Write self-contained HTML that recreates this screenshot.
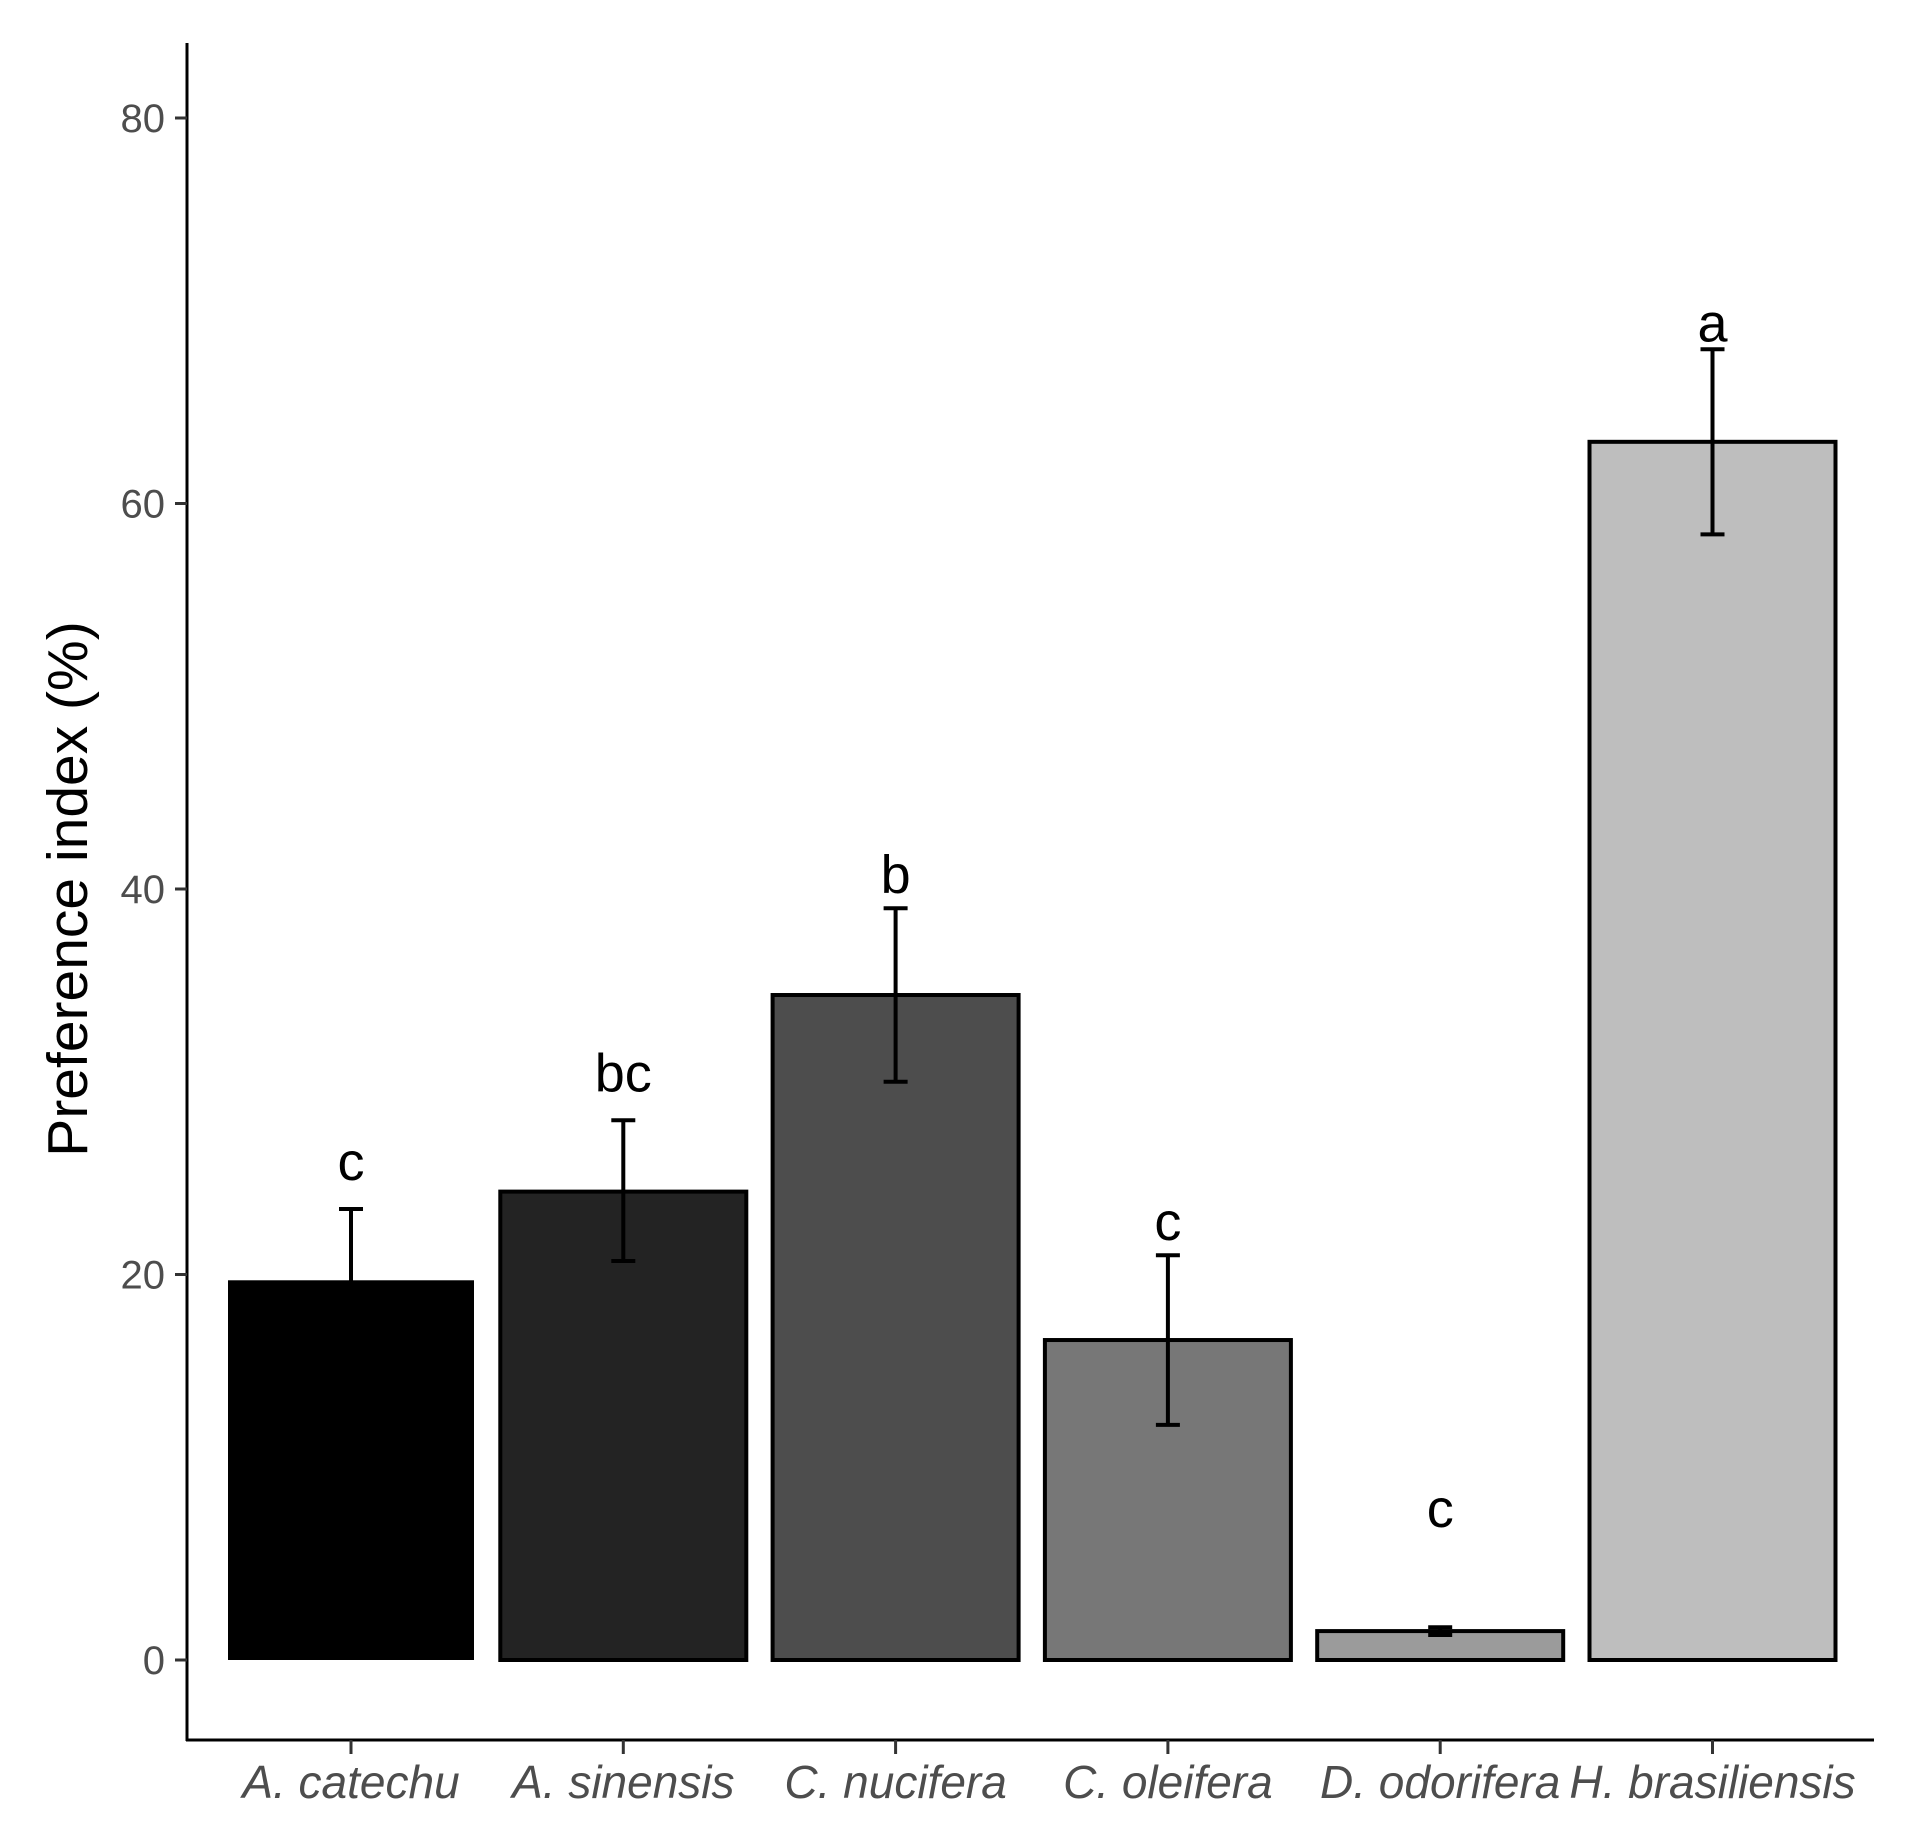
<!DOCTYPE html>
<html><head><meta charset="utf-8"><style>
html,body{margin:0;padding:0;background:#fff;}
svg{display:block;font-family:"Liberation Sans",sans-serif;}
</style></head><body>
<svg id="chart" width="1911" height="1829" viewBox="0 0 1911 1829" xmlns="http://www.w3.org/2000/svg"></svg>
<script>
const categories = ["A. catechu","A. sinensis","C. nucifera","C. oleifera","D. odorifera","H. brasiliensis"];
const values = [19.7, 24.3, 34.5, 16.6, 1.5, 63.2];
const errLow = [16.0, 20.7, 30.0, 12.2, 1.3, 58.4];
const errHigh = [23.4, 28.0, 39.0, 21.0, 1.7, 68.0];
const letters = ["c","bc","b","c","c","a"];
const letterPos = [24.9, 29.5, 39.8, 21.8, 6.9, 68.4];
const fills = ["#000000","#232323","#4d4d4d","#777777","#9b9b9b","#bebebe"];
const yTicks = [0, 20, 40, 60, 80];

const svg = document.getElementById('chart');
const NS = "http://www.w3.org/2000/svg";
const y = v => 1660 - v * (1660 - 118) / 80;
const x = i => 351 + i * 272.3;
const bw = 246;
function mk(tag, attrs, parent){ const e=document.createElementNS(NS,tag); for(const k in attrs) e.setAttribute(k,attrs[k]); (parent||svg).appendChild(e); return e; }

const axes = mk('g',{});


const yl = mk('line',{x1:187,y1:43,x2:187,y2:1741,stroke:'#000','stroke-width':3},axes);


const xl = mk('line',{x1:186,y1:1740,x2:1874,y2:1740,stroke:'#000','stroke-width':3},axes);



yTicks.forEach(t=>{
  const tk = mk('line',{x1:175,y1:y(t),x2:187,y2:y(t),stroke:'#333','stroke-width':3},axes);
  
  
  const lb = mk('text',{x:165,y:y(t)+14,'text-anchor':'end','font-size':40,fill:'#4d4d4d'},axes);
  lb.textContent = t;
  
  
});
const yt = mk('text',{x:0,y:0,'text-anchor':'middle','font-size':57,fill:'#000',transform:'translate(87,889) rotate(-90)'});
yt.textContent = 'Preference index (%)';



categories.forEach((c,i)=>{
  const cx = x(i);
  const r = mk('rect',{x:cx-bw/2,y:y(values[i]),width:bw,height:y(0)-y(values[i]),fill:fills[i],stroke:'#000','stroke-width':i===0?0:4});
  
  
  const eg = mk('g',{stroke:'#000','stroke-width':4});
  
  
  mk('line',{x1:cx,y1:y(errLow[i]),x2:cx,y2:y(errHigh[i])},eg);
  mk('line',{x1:cx-12,y1:y(errHigh[i]),x2:cx+12,y2:y(errHigh[i])},eg);
  mk('line',{x1:cx-12,y1:y(errLow[i]),x2:cx+12,y2:y(errLow[i])},eg);
  const lt = mk('text',{x:cx,y:y(letterPos[i]),'text-anchor':'middle','font-size':54,fill:'#000'});
  lt.textContent = letters[i];
  
  
  const tk = mk('line',{x1:cx,y1:1740,x2:cx,y2:1754,stroke:'#333','stroke-width':3});
  
  
  const xlb = mk('text',{x:cx,y:1798,'text-anchor':'middle','font-size':46,'font-style':'italic',fill:'#4d4d4d'});
  xlb.textContent = c;
  
  
});
</script>
</body></html>
